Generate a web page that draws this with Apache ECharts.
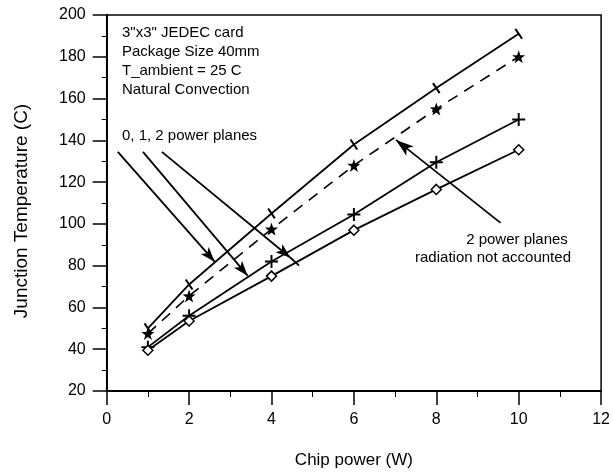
<!DOCTYPE html>
<html>
<head>
<meta charset="utf-8">
<script src="https://cdn.jsdelivr.net/npm/echarts@6/dist/echarts.min.js"></script>
<style>
  html, body { margin: 0; padding: 0; background: #fff; }
  #chart { width: 613px; height: 474px; }
</style>
</head>
<body>
<div id="chart"></div>
<script>
// Chip power (W) at which junction temperature was evaluated
const chipPower = [1, 2, 4, 6, 8, 10];

// Junction temperature (C) for each board configuration
const zeroPlanes = [50, 71, 105, 138, 165, 191];
const twoPlanesNoRadiation = [47.5, 65.5, 97.5, 128, 155, 180];
const onePlane = [41, 56, 82, 104.5, 129.5, 150];
const twoPlanes = [39.5, 53.5, 75, 97, 116.5, 135.5];

// Callout arrows, in (W, C) coordinates: [start, tip]
const planeArrows = [
  [[0.27, 134.5], [2.62, 81.9]],
  [[0.88, 134.5], [3.42, 75.2]],
  [[1.34, 134.5], [4.46, 83.8]]
];
const planeArrowTail = [[4.46, 83.8], [4.67, 80.0]];
const radiationArrow = [[9.56, 100.5], [7.02, 140.2]];

const FONT = 'Liberation Sans, Arial, Helvetica, sans-serif';
const BLACK = '#000';

const chart = echarts.init(document.getElementById('chart'), null, { renderer: 'canvas' });

function pairs(ys) {
  return chipPower.map((x, i) => [x, ys[i]]);
}

const plusPath = 'path://M4.25,0h1.5v4.25h4.25v1.5h-4.25v4.25h-1.5v-4.25h-4.25v-1.5h4.25z';
const starPath = 'path://M5,0.25L6.18,3.63L9.76,3.71L6.9,5.87L7.94,9.3L5,7.25L2.06,9.3L3.1,5.87L0.24,3.71L3.82,3.63Z';

const arrowLines = planeArrows.map(seg => [
  { coord: seg[0], symbol: 'none' },
  { coord: seg[1], symbol: 'arrow', symbolSize: [8, 15] }
]);
arrowLines.push([
  { coord: planeArrowTail[0], symbol: 'none' },
  { coord: planeArrowTail[1], symbol: 'none' }
]);
arrowLines.push([
  { coord: radiationArrow[0], symbol: 'none' },
  { coord: radiationArrow[1], symbol: 'arrow', symbolSize: [9, 18] }
]);

const option = {
  animation: false,
  backgroundColor: '#fff',
  textStyle: { fontFamily: FONT, color: BLACK },
  grid: {
    left: 106.7, right: 10, top: 15, bottom: 82.5,
    show: true, borderColor: BLACK, borderWidth: 1.5, backgroundColor: 'transparent'
  },
  xAxis: {
    type: 'value', min: 0, max: 12, interval: 2,
    name: 'Chip power (W)', nameLocation: 'middle', nameGap: 61,
    nameTextStyle: { fontFamily: FONT, fontSize: 17, color: BLACK },
    axisLine: { show: true, lineStyle: { color: BLACK, width: 2 } },
    axisTick: { show: true, length: 14, lineStyle: { color: BLACK, width: 1.5 } },
    minorTick: { show: true, splitNumber: 2, length: 6, lineStyle: { color: BLACK, width: 1 } },
    axisLabel: { fontFamily: FONT, fontSize: 16, color: BLACK, margin: 21 },
    splitLine: { show: false }
  },
  yAxis: {
    type: 'value', min: 20, max: 200, interval: 20,
    axisLine: { show: true, lineStyle: { color: BLACK, width: 2 } },
    axisTick: { show: true, length: 14, lineStyle: { color: BLACK, width: 1.5 } },
    minorTick: { show: true, splitNumber: 2, length: 5, lineStyle: { color: BLACK, width: 1 } },
    axisLabel: { fontFamily: FONT, fontSize: 16, color: BLACK, margin: 21 },
    splitLine: { show: false }
  },
  series: [
    {
      name: '0 power planes',
      type: 'line',
      data: pairs(zeroPlanes),
      symbol: 'rect', symbolSize: [2, 12], symbolRotate: 34,
      itemStyle: { color: BLACK },
      lineStyle: { color: BLACK, width: 1.8 }
    },
    {
      name: '2 power planes, radiation not accounted',
      type: 'line',
      data: pairs(twoPlanesNoRadiation),
      symbol: starPath, symbolSize: 13,
      itemStyle: { color: BLACK },
      lineStyle: { color: BLACK, width: 1.6, type: [11, 8] }
    },
    {
      name: '1 power plane',
      type: 'line',
      data: pairs(onePlane),
      symbol: plusPath, symbolSize: 13,
      itemStyle: { color: BLACK },
      lineStyle: { color: BLACK, width: 1.8 }
    },
    {
      name: '2 power planes',
      type: 'line',
      data: pairs(twoPlanes),
      symbol: 'diamond', symbolSize: 10,
      itemStyle: { color: '#fff', borderColor: BLACK, borderWidth: 1.5 },
      lineStyle: { color: BLACK, width: 1.8 },
      z: 3
    },
    {
      name: 'callouts',
      type: 'line',
      data: [],
      silent: true,
      markLine: {
        silent: true,
        animation: false,
        label: { show: false },
        lineStyle: { color: BLACK, width: 1.8, type: 'solid' },
        emphasis: { disabled: true },
        data: arrowLines
      }
    }
  ],
  graphic: [
    {
      // vertical axis title
      type: 'text', x: 22, y: 211, rotation: Math.PI / 2,
      style: {
        text: 'Junction Temperature (C)', font: '19px ' + FONT, fill: BLACK,
        align: 'center', verticalAlign: 'middle'
      }
    },
    {
      type: 'text', left: 122, top: 24,
      style: {
        text: '3"x3" JEDEC card\nPackage Size 40mm\nT_ambient = 25 C\nNatural Convection',
        font: '15px ' + FONT, fill: BLACK, lineHeight: 18.7
      }
    },
    {
      type: 'text', left: 122, top: 128,
      style: { text: '0, 1, 2 power planes', font: '15px ' + FONT, fill: BLACK }
    },
    {
      type: 'text', x: 517, y: 239.5,
      style: { text: '2 power planes', font: '15px ' + FONT, fill: BLACK, align: 'center', verticalAlign: 'middle' }
    },
    {
      type: 'text', x: 493, y: 257.5,
      style: { text: 'radiation not accounted', font: '15px ' + FONT, fill: BLACK, align: 'center', verticalAlign: 'middle' }
    }
  ]
};

chart.setOption(option);
</script>
</body>
</html>
